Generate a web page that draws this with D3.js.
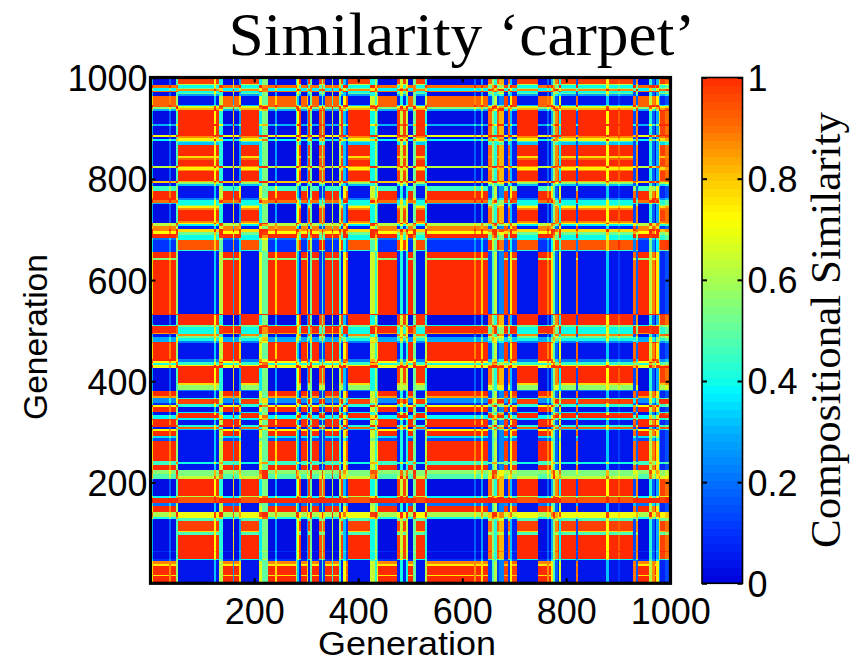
<!DOCTYPE html>
<html><head><meta charset="utf-8">
<script src="https://cdnjs.cloudflare.com/ajax/libs/d3/7.8.5/d3.min.js"></script>
<style>html,body{margin:0;padding:0;background:#fff}svg{display:block}</style>
</head><body><svg id="c" width="851" height="663"></svg>
<script>
// Composition profile read along the horizontal axis: last generation of each band, and its value
const colEnds = [5,36,40,50,54,122,127,133,139,159,162,170,174,210,215,226,239,244,281,282,286,289.5,301,303.5,307,310.5,325,330,333,336,349,352,363,366,371,375.5,380.5,423,431.5,436,438.5,474,480.5,486,491,495,505,511.5,529,532,623,626,636,640,650,658,662,666,670,680,688,692,695,706,746,763,766,771,775,779,784,787,790,818,822,877,882,900,904,928.5,935,938,960,965,970,973,977.6,981,989,1000];
const colVals = [.7,1,.85,1,.55,.02,.3,.03,.6,1,.25,1,.75,.02,.65,.48,1,.75,1,.6,.3,.05,1,.75,.05,.5,1,.08,.45,.1,1,.4,1,.4,.05,.7,.9,.02,.62,.42,.72,1,.05,.38,.05,.38,1,.5,.03,.6,1,.85,1,.75,1,.12,.45,.6,.1,.2,.95,.1,.7,.95,.02,1,.85,1,.72,.45,.15,.05,.65,.02,.88,.02,.3,.02,.09,.02,.88,.15,1,.6,.85,1,.72,.25,.05,.12];
// Similarity of each generation band to the red-state columns (read near generation 620)
const rowEnds = [14,17,35.5,39,45.5,49,62,65,127,131,141,153.5,159,169.5,174,207,216,225,235,242,281.5,288,291,301,305,310.5,326,333,339,349,353,357,366,370,380.5,427,432,437,440,477,481,487,492.5,495,509,511,531,639,643,655.5,679,684,692,697,707,713,750,753,758,776,786,791,796,822,826,874,878,882,886,904,908,934.5,938,942,964,971,974,979,986,1000];
const rowVals = [1,.75,1,.75,.88,.1,.02,.09,.02,.4,.6,1,.2,1,.38,.02,.48,.56,1,.45,1,.15,.35,1,.72,.05,1,.38,.05,1,.72,.08,.25,.85,1,.02,.7,.42,.72,1,.3,.28,.05,.85,1,.4,.02,1,.55,1,.1,.2,1,.72,.88,.62,.02,.3,.9,1,.45,.05,.8,.02,.62,.02,.38,.03,.7,.02,.3,.02,.3,.55,.92,.03,.9,.38,.9,.03];
// Similarity of each generation band to the blue-state columns (read near generation 80)
const rowBlueEnds = [46,48,96,101,104,124,130,141,160,171,174,207,212,225,237,241,304,306,310,314,324,327,337,340,350,354,365,367,380,383,393,396,430,433,439,443,476,479,485,489,494,508,512,532,657,660,680,690,696,700,706,710,713,716,739,742,746,749,759,762,785,789,793,795,815,818,823,825,838,841,845,868,873,875,881,885,937,940,945,947,963,967,970,973,978,980,985,988,1000];
const rowBlueVals = [.02,.35,1,.45,.75,.95,.45,.68,.03,.92,.6,1,.62,.52,.03,.38,.03,.3,.9,.4,.03,.35,1,.35,.03,.4,.95,.4,.03,.2,.55,.75,1,.72,.42,.2,.03,.2,.38,.5,.85,.38,.5,1,.03,.4,.92,.38,.5,.75,.06,.35,.7,.85,1,.85,.72,.5,.38,.2,.03,.3,.55,.8,1,.85,.72,.85,1,.9,.75,1,.3,.45,.72,.85,1,.8,.65,.3,.03,.25,.5,.38,.85,.5,.38,.6,.95];
const colorStops = [0,.1,.2,.3,.38,.4,.5,.6,.7,.72,.8,.9,1];
const colorHex = ["#0000dc","#0030ff","#0070ff","#00b0ff","#00f8ff","#10ffe8","#60ffa0","#a8ff50","#f0ff08","#ffff00","#ffc800","#ff7000","#ff2c00"];
const axisTicks = [200,400,600,800,1000];
const xAxisTicks = [200,400,600,800,1000];
const barTicks = [0,.2,.4,.6,.8,1];
const barLevels = d3.range(64);

const svg = d3.select("#c");
const sans = "'Liberation Sans',Arial,sans-serif", serif = "'Liberation Serif','Times New Roman',serif";
const x = d3.scaleLinear().domain([0.5,1000.5]).range([150.5,670.5]);
const y = d3.scaleLinear().domain([0.5,1000.5]).range([583.3,77.5]);
const color = d3.scaleLinear().domain(colorStops).range(colorHex).clamp(true);
const bands = (ends,vals) => ends.map((e,i)=>({a:i?ends[i-1]:0.5,b:e,v:vals[i]}));
const lookup = (ends,vals,g) => vals[Math.min(d3.bisectLeft(ends,g),vals.length-1)];
const cols = bands(colEnds,colVals);
// merge the two row readings on their common band edges
const rowEdges = Array.from(new Set([...rowEnds,...rowBlueEnds])).sort(d3.ascending);
const rows = rowEdges.map((e,i)=>{
  const R = lookup(rowEnds,rowVals,e), B = lookup(rowBlueEnds,rowBlueVals,e);
  return {a:i?rowEdges[i-1]:0.5,b:e,s:(R+1-B)/2,k:(R+B-1)/2};
});

const defs = svg.append("defs");
defs.append("clipPath").attr("id","plot").append("rect")
  .attr("x",x(0.5)).attr("y",y(1000.5)).attr("width",x(1000.5)-x(0.5)).attr("height",y(0.5)-y(1000.5));
defs.append("filter").attr("id","soft").attr("filterUnits","userSpaceOnUse")
  .attr("x",140).attr("y",70).attr("width",540).attr("height",520)
  .append("feGaussianBlur").attr("stdDeviation",0.6);

const heat = svg.append("g").attr("clip-path","url(#plot)").append("g").attr("filter","url(#soft)").attr("shape-rendering","crispEdges");
rows.forEach(r=>{
  heat.append("g").selectAll("rect").data(cols).join("rect")
    .attr("x",c=>x(c.a)).attr("width",c=>x(c.b)-x(c.a))
    .attr("y",y(r.b)).attr("height",y(r.a)-y(r.b))
    .attr("fill",c=>color(1-Math.abs(r.s-c.v)+r.k));
});

// frame and axes
svg.append("rect").attr("x",x(0.5)).attr("y",y(1000.5)).attr("width",x(1000.5)-x(0.5)).attr("height",y(0.5)-y(1000.5))
  .attr("fill","none").attr("stroke","#000").attr("stroke-width",3.2);
const styleAxis = g => {
  g.select(".domain").remove();
  g.selectAll("line").attr("stroke","#000").attr("stroke-width",2);
  g.selectAll("text").attr("font-family",sans).attr("font-size",36).attr("fill","#000");
};
svg.append("g").attr("transform",`translate(0,${y(0.5)})`)
  .call(d3.axisTop(x).tickValues(xAxisTicks).tickSize(5).tickFormat(d3.format("d"))).call(styleAxis)
  .selectAll("text").attr("text-anchor","middle").attr("y",28).attr("dy",".36em");
svg.append("g").attr("transform",`translate(0,${y(1000.5)})`)
  .call(d3.axisBottom(x).tickValues(xAxisTicks).tickSize(5).tickFormat("")).call(styleAxis);
svg.append("g").attr("transform",`translate(${x(0.5)},0)`)
  .call(d3.axisRight(y).tickValues(axisTicks).tickSize(5).tickFormat(d3.format("d"))).call(styleAxis)
  .selectAll("text").attr("text-anchor","end").attr("x",-3).attr("dy",".36em");
svg.append("g").attr("transform",`translate(${x(1000.5)},0)`)
  .call(d3.axisLeft(y).tickValues(axisTicks).tickSize(5).tickFormat("")).call(styleAxis);

// colour bar
const barX0 = 702, barX1 = 742.5;
const bar = d3.scaleLinear().domain([0,1]).range([583.3,77.5]);
const lvl = d3.scaleBand().domain(barLevels).range([583.3,77.5]);
svg.append("g").attr("shape-rendering","crispEdges").selectAll("rect").data(barLevels).join("rect")
  .attr("x",barX0).attr("width",barX1-barX0).attr("y",d=>lvl(d)).attr("height",lvl.bandwidth()+0.6)
  .attr("fill",d=>color((d+0.5)/barLevels.length));
svg.append("rect").attr("x",barX0).attr("y",bar(1)).attr("width",barX1-barX0).attr("height",bar(0)-bar(1))
  .attr("fill","none").attr("stroke","#000").attr("stroke-width",1.6);
svg.append("g").attr("transform",`translate(${barX1},0)`)
  .call(d3.axisRight(bar).tickValues(barTicks).tickSize(-5).tickFormat(d3.format("~g"))).call(styleAxis)
  .selectAll("text").attr("x",5).attr("dy",".36em");
svg.append("g").attr("transform",`translate(${barX0},0)`)
  .call(d3.axisLeft(bar).tickValues(barTicks).tickSize(-5).tickFormat("")).call(styleAxis);

// titles
svg.append("text").attr("x",462).attr("y",55).attr("text-anchor","middle")
  .attr("textLength",467).attr("lengthAdjust","spacingAndGlyphs")
  .attr("font-family",serif).attr("font-size",61).attr("fill","#000").text("Similarity ‘carpet’");
svg.append("text").attr("x",407).attr("y",655).attr("text-anchor","middle")
  .attr("textLength",178).attr("lengthAdjust","spacingAndGlyphs")
  .attr("font-family",sans).attr("font-size",34).attr("fill","#000").text("Generation");
svg.append("text").attr("transform","translate(47,337) rotate(-90)").attr("text-anchor","middle")
  .attr("font-family",sans).attr("font-size",33.5).attr("fill","#000").text("Generation");
svg.append("text").attr("transform","translate(840,330) rotate(-90)").attr("text-anchor","middle")
  .attr("font-family",serif).attr("font-size",43).attr("fill","#000").text("Compositional Similarity");
</script></body></html>
